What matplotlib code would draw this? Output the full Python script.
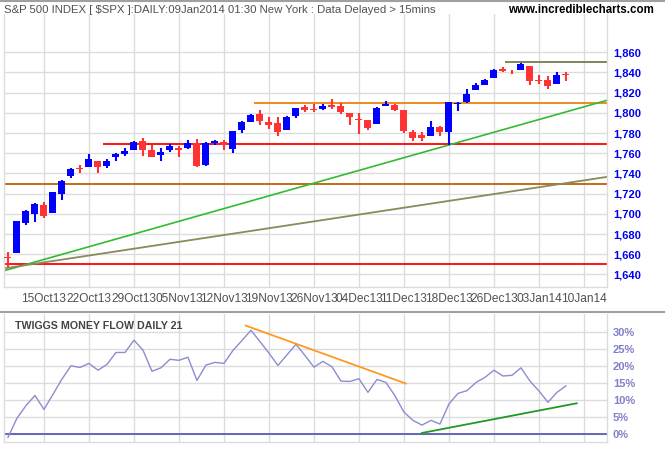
import matplotlib
matplotlib.use('Agg')
import matplotlib.pyplot as plt
from matplotlib.lines import Line2D


##################################################
#################### DATA ########################
##################################################
# daily candles, 09 Oct 2013 -> 08 Jan 2014 (x = trading-day index)
opens = [1657, 1661, 1691, 1700, 1709, 1700.5, 1720, 1737, 1745, 1746.5,
         1752.5, 1747.5, 1756, 1759.5, 1763, 1772, 1763.5, 1758.5, 1763.5, 1765.5,
         1765, 1770.5, 1748.5, 1770, 1771, 1764.5, 1783, 1790.5, 1798.5, 1790.5,
         1789.5, 1783.5, 1796.5, 1806, 1803, 1803.5, 1808, 1806.5, 1800, 1794,
         1792.5, 1788.5, 1806.5, 1807.5, 1802.5, 1781.5, 1778, 1777.5, 1786.5, 1781.5,
         1809, 1810.5, 1823, 1828, 1835, 1843, 1841.5, 1842.5, 1846, 1833,
         1832.5, 1829, 1838]
highs = [1662, 1693, 1703.5, 1711, 1711.5, 1722, 1733.5, 1745.5, 1748, 1759.5,
         1752.5, 1754, 1760, 1765, 1772, 1775, 1768.5, 1765.5, 1769, 1767,
         1773.5, 1774.5, 1771, 1773.5, 1773, 1782, 1791.5, 1798.5, 1802.5, 1795.5,
         1795.5, 1797, 1805, 1808, 1808.5, 1808.5, 1813.5, 1810, 1800, 1799.5,
         1792.5, 1806, 1811.5, 1808.5, 1803, 1783, 1781, 1792, 1787, 1811,
         1811, 1824, 1830, 1833.5, 1843, 1845, 1842.5, 1849.5, 1846, 1838,
         1837, 1840, 1840]
lows = [1647, 1661, 1688.5, 1692, 1696, 1700.5, 1714, 1735.5, 1740.5, 1746.5,
        1740.5, 1745.5, 1752.5, 1757.5, 1763, 1757.5, 1756, 1752.5, 1761.5, 1756,
        1764.5, 1746.5, 1747.5, 1768, 1763, 1760.5, 1780, 1790.5, 1788, 1784.5,
        1777.5, 1783.5, 1794.5, 1800.5, 1800.5, 1802.5, 1804, 1798.5, 1788, 1779.5,
        1783.5, 1788.5, 1806.5, 1802, 1780.5, 1772.5, 1772.5, 1777.5, 1777, 1768,
        1801.5, 1810, 1823, 1828, 1835, 1840, 1839, 1842.5, 1827.5, 1829,
        1824, 1829, 1831.5]
closes = [1656.5, 1692.5, 1703, 1710, 1698, 1721.5, 1733, 1744.5, 1744.5, 1754.5,
          1746.5, 1752, 1759.5, 1762, 1771.5, 1763.5, 1756.5, 1761.5, 1767.5, 1763,
          1770.5, 1747, 1770.5, 1772, 1768, 1782, 1790.5, 1798, 1791.5, 1788,
          1781.5, 1795.5, 1804.5, 1802.5, 1802.5, 1807, 1805.5, 1801, 1795.5, 1793,
          1785.5, 1805, 1808.5, 1802.5, 1782.5, 1775.5, 1775.5, 1786.5, 1781, 1810.5,
          1809.5, 1818.5, 1828, 1833, 1842, 1841.5, 1841, 1848.5, 1832, 1831.5,
          1827, 1838, 1837.5]

# Twiggs Money Flow 21 (%)
tmf = [-0.9, 4.7, 8.4, 11.4, 7.3, 11.7, 16.2, 20.1, 19.6, 20.8,
       18.8, 20.5, 24.0, 24.0, 27.6, 24.7, 18.5, 19.5, 22.0, 21.7,
       22.6, 15.8, 20.3, 21.1, 20.8, 24.6, 27.5, 30.5, 27.2, 23.8,
       20.2, 23.3, 26.4, 23.1, 19.7, 21.4, 19.8, 15.6, 15.5, 16.3,
       12.3, 16.1, 15.2, 11.3, 6.5, 4.1, 2.7, 4.1, 3.0, 8.9,
       12.0, 12.8, 15.2, 16.7, 18.8, 17.1, 17.3, 19.5, 15.6, 12.7,
       9.4, 12.3, 14.2]

tick_pos = [4, 9, 14, 19, 24, 29, 34, 39, 44, 49, 54, 59, 64]
tick_labels = ['15Oct13', '22Oct13', '29Oct13', '05Nov13', '12Nov13', '19Nov13',
               '26Nov13', '04Dec13', '11Dec13', '18Dec13', '26Dec13', '03Jan14',
               '10Jan14']
price_ticks = list(range(1640, 1861, 20))
tmf_ticks = [0, 5, 10, 15, 20, 25, 30]

# horizontal support / resistance levels and the day they start on
level_values = [1650, 1730, 1769, 1810, 1850]
level_start = [-1, -1, 10.6, 27.3, 55.2]
level_colors = ['#ff0000', '#c06000', '#ff0000', '#f08010', '#7a7a4a']

# trend lines: two (day, price) points each
trend_green = [(0, 1644.7), (49, 1768.2)]
trend_olive = [(0, 1646.5), (60, 1727.7)]
tmf_down = [(26.4, 31.9), (44.2, 14.9)]
tmf_up = [(46, 0.4), (63.2, 9.1)]

##################################################
#################### DRAW ########################
##################################################
plt.rcParams['font.family'] = ['Liberation Sans Narrow', 'Liberation Sans', 'DejaVu Sans']

XMIN, XMAX = -0.44, 66.59
GRID = '#dcdcdc'


def style_axes(ax):
    for s in ax.spines.values():
        s.set_color(GRID)
        s.set_linewidth(1.0)
    ax.spines['top'].set_visible(False)
    ax.set_xlim(XMIN, XMAX)
    ax.set_xticks(tick_pos)
    ax.grid(True, color=GRID, linewidth=1.0, zorder=0)
    ax.set_axisbelow(True)
    ax.yaxis.tick_right()
    ax.tick_params(length=0)


fig = plt.figure(figsize=(6.65, 4.5), dpi=100)

ax = fig.add_axes([0.006, 0.362, 0.9072, 0.607])
style_axes(ax)
ax.set_ylim(1627.4, 1898)
ax.set_yticks(price_ticks)
ax.set_yticklabels([f'{v:,}' for v in price_ticks], fontfamily='Liberation Sans',
                   fontweight='bold', fontsize=8, color='#0000f0')
ax.tick_params(axis='y', pad=4)
ax.set_xticklabels(tick_labels, fontsize=8.6, color='#505050')
ax.tick_params(axis='x', pad=4)

xs = list(range(len(closes)))
cols = ['#0000ff' if c >= o else '#ff3333' for o, c in zip(opens, closes)]
ax.vlines(xs, lows, highs, colors=cols, linewidth=1.5, zorder=3)
bodies = [max(abs(c - o), 0.9) for o, c in zip(opens, closes)]
bottoms = [min(o, c) for o, c in zip(opens, closes)]
ax.bar(xs, bodies, bottom=bottoms, width=0.78, color=cols, zorder=4)

for v, s, c in zip(level_values, level_start, level_colors):
    ax.hlines(v, max(s, XMIN), XMAX, colors=c, linewidth=1.3, zorder=2)

ax.axline(trend_green[0], trend_green[1], color='#33bb33', linewidth=1.2, zorder=2)
ax.axline(trend_olive[0], trend_olive[1], color='#8a8a5a', linewidth=1.3, zorder=2)

fig.text(0.006, 0.978, 'S&P 500 INDEX [ $SPX ]:DAILY:09Jan2014 01:30 New York : Data Delayed > 15mins',
         fontsize=8.2, color='#505050', va='center', ha='left')
fig.text(0.983, 0.978, 'www.incrediblecharts.com', fontsize=8.3, fontweight='bold',
         color='black', va='center', ha='right')

# lower panel
ax2 = fig.add_axes([0.006, 0.0184, 0.9072, 0.2832])
style_axes(ax2)
ax2.set_ylim(-2.17, 35.2)
ax2.set_yticks(tmf_ticks)
ax2.set_yticklabels([f'{v}%' for v in tmf_ticks], fontfamily='Liberation Sans',
                    fontweight='bold', fontsize=8, color='#8080c8')
ax2.tick_params(axis='y', pad=4)
ax2.set_xticklabels([])
ax2.axhline(0, color='#6666bb', linewidth=1.4, zorder=2)
ax2.plot(xs, tmf, color='#8c8cd0', linewidth=1.0, zorder=3)
ax2.plot([p[0] for p in tmf_down], [p[1] for p in tmf_down], color='#ff9922', linewidth=1.3, zorder=3)
ax2.plot([p[0] for p in tmf_up], [p[1] for p in tmf_up], color='#229922', linewidth=1.3, zorder=3)
ax2.text(0.018, 0.95, 'TWIGGS MONEY FLOW DAILY 21', transform=ax2.transAxes,
         fontfamily='Liberation Sans', fontweight='bold', fontsize=7.7, color='#444444',
         va='top', ha='left')

# grey separators
fig.add_artist(Line2D([0, 1], [0.306, 0.306], color='#a0a0a0', linewidth=1.5))
fig.add_artist(Line2D([0, 1], [0.997, 0.997], color='#a0a0a0', linewidth=1.5))

fig.savefig('out.png', dpi=100)
